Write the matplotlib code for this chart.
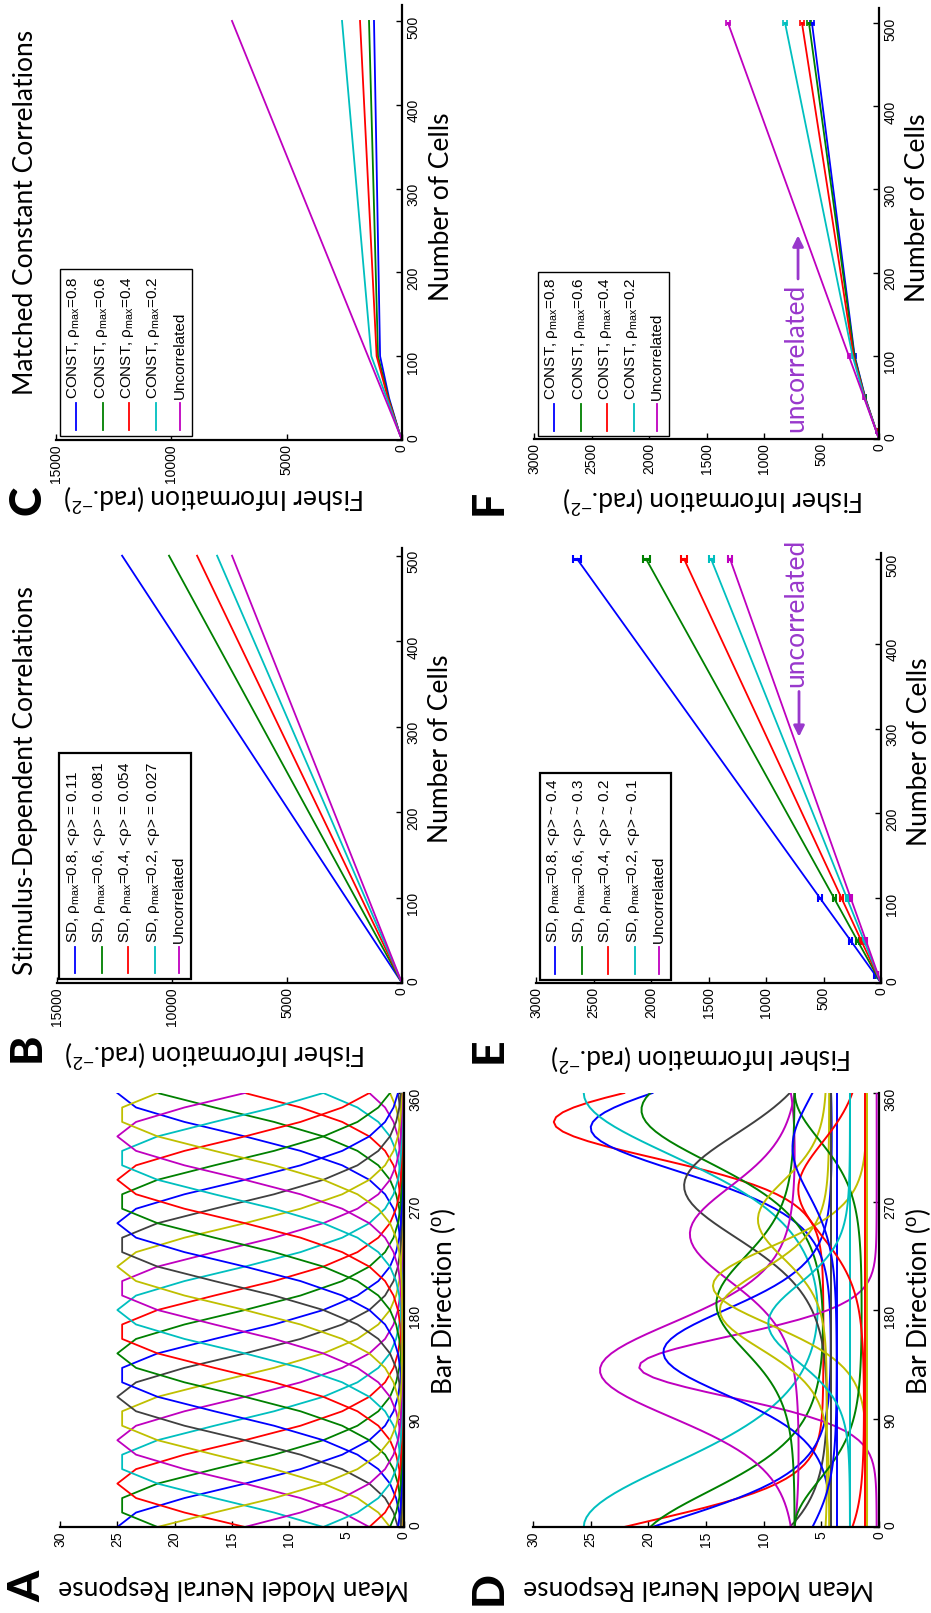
import matplotlib
matplotlib.use("Agg")
import matplotlib.pyplot as plt
import numpy as np
from matplotlib import font_manager
from matplotlib.lines import Line2D
from matplotlib.patches import Rectangle

W, H, DPI = 931, 1613, 100

_names = {f.name for f in font_manager.fontManager.ttflist}
if "Liberation Sans Narrow" in _names:
    TICK_FONT, TICK_SIZE, LEG_SIZE = "Liberation Sans Narrow", 11.5, 13
else:
    TICK_FONT, TICK_SIZE, LEG_SIZE = "Liberation Sans", 10, 11
LABEL_FONT = "Lato"

plt.rcParams["font.family"] = [TICK_FONT, "DejaVu Sans"]
plt.rcParams["mathtext.fontset"] = "custom"
plt.rcParams["mathtext.rm"] = TICK_FONT
plt.rcParams["mathtext.it"] = TICK_FONT + ":italic"
plt.rcParams["mathtext.bf"] = TICK_FONT + ":bold"

# matlab default line colours
MB, MG, MR = (0, 0, 1), (0, 0.5, 0), (1, 0, 0)
MC, MM, MY, MK = (0, 0.75, 0.75), (0.75, 0, 0.75), (0.75, 0.75, 0), (0.25, 0.25, 0.25)
CYCLE = [MB, MG, MR, MC, MM, MY, MK]
PURPLE = (0.6, 0.22, 0.8)

# ---- panel A: homogeneous population (20 cells), coarse direction grid ----
DIRS_A = np.arange(0, 361, 12)
A_PREF = [0, 18, 36, 54, 72, 90, 108, 126, 144, 162,
          180, 198, 216, 234, 252, 270, 288, 306, 324, 342]
A_PEAK, A_BASE, A_KAPPA = 25.0, 0.1, 3.1

# ---- panel D: heterogeneous population ----
DIRS_D = np.arange(0, 361, 4)
D_COLOR = [MR, MB, MC, MG, MK, MM, MM, MM, MB, MG, MY,
           MY, MY, MG, MB, MC, MK, MR, MY, MR, MB, MC]
D_PREF = [336, 331, 0, 346, 283, 130, 133, 243, 145, 185, 180,
          200, 255, 0, 0, 0, 0, 0, 0, 280, 315, 169]
D_PEAK = [28.2, 25.0, 25.6, 20.6, 16.9, 24.2, 20.8, 16.4, 18.7, 14.1, 13.8,
          14.4, 10.5, 7.3, 3.6, 2.5, 4.2, 1.2, 1.0, 7.0, 7.5, 9.6]
D_BASE = [4.8, 4.0, 2.5, 4.2, 4.0, 7.0, 0.2, 6.8, 4.0, 7.2, 4.3,
          1.0, 4.5, 1.4, 3.6, 2.5, 4.2, 1.2, 1.0, 1.2, 3.6, 2.5]
D_KAPPA = [3.5, 2.35, 1.05, 1.6, 1.6, 2.0, 5.0, 2.0, 2.5, 2.0, 3.0,
           3.0, 3.0, 2.0, 1.0, 1.0, 1.0, 1.0, 1.0, 2.0, 2.0, 3.0]

# ---- panels B, C, E, F: Fisher information vs number of cells ----
N_CELLS = [0, 10, 50, 100, 500]

B_SD08 = [0, 244, 1220, 2440, 12170]
B_SD06 = [0, 203, 1015, 2030, 10130]
B_SD04 = [0, 178, 890, 1780, 8910]
B_SD02 = [0, 161, 805, 1610, 8040]
B_UNC = [0, 148, 739, 1478, 7390]

C_CONST08 = [0, 130, 560, 950, 1214]
C_CONST06 = [0, 132, 590, 1040, 1430]
C_CONST04 = [0, 134, 610, 1100, 1820]
C_CONST02 = [0, 138, 660, 1330, 2600]
C_UNC = [0, 147, 737, 1474, 7370]

E_SD08 = [0, 53, 264, 530, 2643]
E_SD06 = [0, 41, 205, 408, 2043]
E_SD04 = [0, 34, 172, 343, 1713]
E_SD02 = [0, 30, 148, 296, 1478]
E_UNC = [0, 26, 131, 263, 1313]
E_ERR08 = [0, 5, 10, 15, 35]
E_ERR06 = [0, 5, 10, 13, 30]
E_ERR04 = [0, 4, 9, 12, 25]
E_ERR02 = [0, 4, 8, 11, 22]
E_ERRU = [0, 4, 8, 10, 18]

F_CONST08 = [0, 24, 120, 212, 583]
F_CONST06 = [0, 24, 122, 215, 609]
F_CONST04 = [0, 24, 124, 222, 670]
F_CONST02 = [0, 25, 127, 230, 817]
F_UNC = [0, 26, 131, 263, 1313]
F_ERR = [0, 3, 6, 8, 14]

SD_LABELS_B = ["SD, \u03c1$_{\\rm max}$=0.8, <\u03c1> = 0.11",
               "SD, \u03c1$_{\\rm max}$=0.6, <\u03c1> = 0.081",
               "SD, \u03c1$_{\\rm max}$=0.4, <\u03c1> = 0.054",
               "SD, \u03c1$_{\\rm max}$=0.2, <\u03c1> = 0.027",
               "Uncorrelated"]
SD_LABELS_E = ["SD, \u03c1$_{\\rm max}$=0.8, <\u03c1> ~ 0.4",
               "SD, \u03c1$_{\\rm max}$=0.6, <\u03c1> ~ 0.3",
               "SD, \u03c1$_{\\rm max}$=0.4, <\u03c1> ~ 0.2",
               "SD, \u03c1$_{\\rm max}$=0.2, <\u03c1> ~ 0.1",
               "Uncorrelated"]
CONST_LABELS = ["CONST, \u03c1$_{\\rm max}$=0.8",
                "CONST, \u03c1$_{\\rm max}$=0.6",
                "CONST, \u03c1$_{\\rm max}$=0.4",
                "CONST, \u03c1$_{\\rm max}$=0.2",
                "Uncorrelated"]
FIVE = [MB, MG, MR, MC, MM]


def vonmises(dirs, pref, peak, base, kappa):
    return base + (peak - base) * np.exp(kappa * (np.cos(np.radians(dirs - pref)) - 1))


fig = plt.figure(figsize=(W / DPI, H / DPI), dpi=DPI)


def fx(x):
    return x / W


def fy(y):
    return 1 - y / H


def px_axes(l, t, r, b):
    return fig.add_axes([fx(l), fy(b), (r - l) / W, (b - t) / H])


def style(ax, vmax, vticks, nmax, nticks, vlabel, nlabel, vlab_xy, nlab_xy):
    # the whole figure is turned a quarter turn: values run right-to-left,
    # the independent variable runs bottom-to-top
    ax.set_xlim(vmax, 0)
    ax.set_ylim(0, nmax)
    ax.set_xticks(vticks)
    ax.set_yticks(nticks)
    for s in ("top", "left"):
        ax.spines[s].set_visible(False)
    for s in ("bottom", "right"):
        ax.spines[s].set_linewidth(1.6)
    ax.yaxis.tick_right()
    ax.tick_params(direction="in", length=4, width=1, labelsize=TICK_SIZE,
                   labelrotation=90, pad=3)
    ax.set_ylabel(nlabel, fontfamily=LABEL_FONT, fontsize=19)
    ax.yaxis.set_label_position("right")
    ax.yaxis.set_label_coords(*nlab_xy)
    ax.yaxis.label.set_verticalalignment("center")
    ax.set_xlabel(vlabel, fontfamily=LABEL_FONT, fontsize=19, rotation=180)
    ax.xaxis.set_label_coords(*vlab_xy)
    ax.xaxis.label.set_rotation_mode("anchor")
    ax.xaxis.label.set_verticalalignment("center")


def legend(box, xs, y_bot, y_top, labels, lw_box):
    l, t, r, b = box
    fig.add_artist(Rectangle((fx(l), fy(b)), (r - l) / W, (b - t) / H,
                             transform=fig.transFigure, facecolor="white",
                             edgecolor="black", lw=lw_box, zorder=5))
    for x, lab, c in zip(xs, labels, FIVE):
        fig.add_artist(Line2D([fx(x), fx(x)], [fy(y_bot), fy(y_top)],
                              transform=fig.transFigure, color=c, lw=1.3, zorder=6))
        dx = 0 if lab == "Uncorrelated" else -2
        fig.text(fx(x + dx), fy(y_top - 4), lab, rotation=90, ha="center",
                 va="bottom", fontsize=LEG_SIZE, zorder=7)


resp_label = "Mean Model Neural Response"
dir_label = "Bar Direction ($^{\\rm o}$)"
fi_label = "Fisher Information (rad.$^{-2}$)"
n_label = "Number of Cells"

# ---------- A ----------
axA = px_axes(60, 1093, 404, 1527)
for i, p in enumerate(A_PREF):
    axA.plot(vonmises(DIRS_A, p, A_PEAK, A_BASE, A_KAPPA), DIRS_A, color=CYCLE[i % 7], lw=1.3)
style(axA, 30, [0, 5, 10, 15, 20, 25, 30], 360, [0, 90, 180, 270, 360],
      resp_label, dir_label, (0.505, -0.14), (1.113, 0.52))

# ---------- D ----------
axD = px_axes(533, 1093, 879, 1527)
for c, p, pk, bs, k in zip(D_COLOR, D_PREF, D_PEAK, D_BASE, D_KAPPA):
    axD.plot(vonmises(DIRS_D, p, pk, bs, k), DIRS_D, color=c, lw=1.4)
style(axD, 30, [0, 5, 10, 15, 20, 25, 30], 360, [0, 90, 180, 270, 360],
      resp_label, dir_label, (0.48, -0.14), (1.113, 0.52))

# ---------- B ----------
axB = px_axes(57, 548, 402, 983)
for ys, c in zip([B_SD08, B_SD06, B_SD04, B_SD02, B_UNC], FIVE):
    axB.plot(ys, N_CELLS, color=c, lw=1.3)
style(axB, 15000, [0, 5000, 10000, 15000], 509, [0, 100, 200, 300, 400, 500],
      fi_label, n_label, (0.458, -0.159), (1.113, 0.538))
legend((59, 753, 191, 979), [75, 102, 128, 155, 179], 973, 947, SD_LABELS_B, 1.6)

# ---------- C ----------
axC = px_axes(56, 5, 402, 440)
for ys, c in zip([C_CONST08, C_CONST06, C_CONST04, C_CONST02, C_UNC], FIVE):
    axC.plot(ys, N_CELLS, color=c, lw=1.3)
style(axC, 15000, [0, 5000, 10000, 15000], 519, [0, 100, 200, 300, 400, 500],
      fi_label, n_label, (0.458, -0.131), (1.113, 0.536))
legend((60, 269, 192, 436), [76, 103, 129, 156, 180], 430, 403, CONST_LABELS, 1.0)

# ---------- E ----------
axE = px_axes(536, 553, 881, 983)
for ys, es, c in zip([E_SD08, E_SD06, E_SD04, E_SD02, E_UNC],
                     [E_ERR08, E_ERR06, E_ERR04, E_ERR02, E_ERRU], FIVE):
    axE.errorbar(ys, N_CELLS, xerr=es, color=c, lw=1.3, elinewidth=2.2,
                 capsize=3, capthick=1.5)
style(axE, 3000, [0, 500, 1000, 1500, 2000, 2500, 3000], 507, [0, 100, 200, 300, 400, 500],
      fi_label, n_label, (0.48, -0.172), (1.113, 0.538))
legend((540, 773, 671, 980), [555, 582, 608, 635, 659], 974, 947, SD_LABELS_E, 1.6)
axE.annotate("", xy=(713, 287), xytext=(713, 347),
             arrowprops=dict(arrowstyle="-|>", color=PURPLE, lw=2, mutation_scale=16))
axE.text(740, 349, "uncorrelated", rotation=90, ha="center", va="bottom",
         color=PURPLE, fontfamily=LABEL_FONT, fontsize=19)

# ---------- F ----------
axF = px_axes(534, 8, 879, 439)
for ys, c in zip([F_CONST08, F_CONST06, F_CONST04, F_CONST02, F_UNC], FIVE):
    axF.errorbar(ys, N_CELLS, xerr=F_ERR, color=c, lw=1.3, elinewidth=2.0,
                 capsize=2, capthick=1.2)
style(axF, 3000, [0, 500, 1000, 1500, 2000, 2500, 3000], 518, [0, 100, 200, 300, 400, 500],
      fi_label, n_label, (0.52, -0.138), (1.113, 0.536))
legend((538, 272, 669, 436), [554, 581, 607, 634, 657], 431, 404, CONST_LABELS, 1.0)
axF.annotate("", xy=(704, 248), xytext=(704, 189),
             arrowprops=dict(arrowstyle="-|>", color=PURPLE, lw=2, mutation_scale=16))
axF.text(722, 187, "uncorrelated", rotation=90, ha="center", va="top",
         color=PURPLE, fontfamily=LABEL_FONT, fontsize=19)

# ---------- titles and panel letters ----------
fig.text(fx(26), fy(781), "Stimulus-Dependent Correlations", rotation=90,
         ha="center", va="center", fontfamily=LABEL_FONT, fontsize=19)
fig.text(fx(26), fy(212), "Matched Constant Correlations", rotation=90,
         ha="center", va="center", fontfamily=LABEL_FONT, fontsize=19)
for letter, x, y in [("A", 27, 1586), ("B", 27, 1047), ("C", 27, 500),
                     ("D", 489, 1588), ("E", 489, 1050), ("F", 489, 502)]:
    fig.text(fx(x), fy(y), letter, rotation=90, ha="center", va="center",
             fontfamily=LABEL_FONT, fontweight="black", fontsize=32)

fig.savefig("out.png", dpi=DPI)
